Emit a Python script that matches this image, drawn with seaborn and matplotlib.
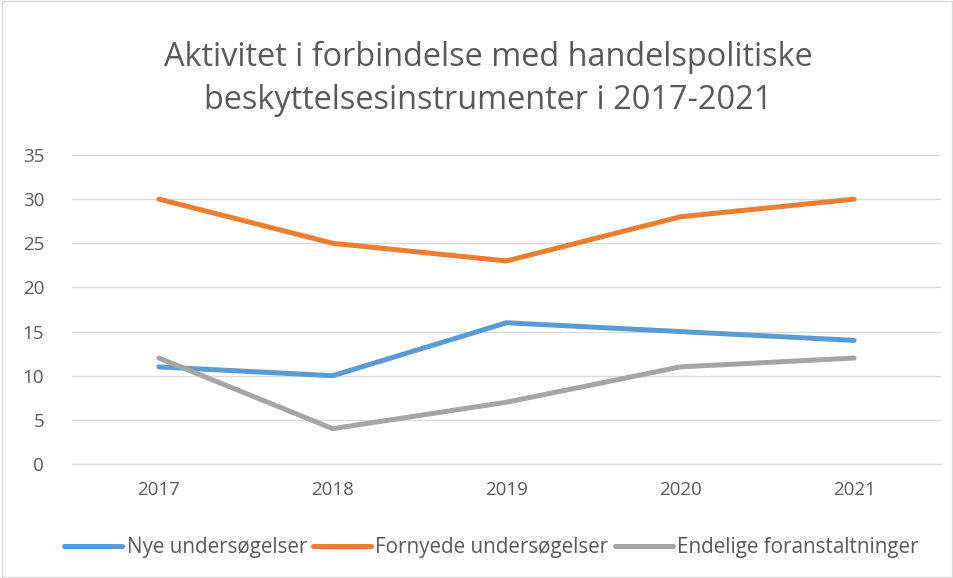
import matplotlib
matplotlib.use("Agg")
import matplotlib.pyplot as plt
import seaborn as sns
import pandas as pd
from matplotlib.patches import Rectangle

years = ["2017", "2018", "2019", "2020", "2021"]
nye = [11, 10, 16, 15, 14]
fornyede = [30, 25, 23, 28, 30]
endelige = [12, 4, 7, 11, 12]
series_names = ["Nye undersøgelser", "Fornyede undersøgelser", "Endelige foranstaltninger"]
colors = ["#5B9BD5", "#ED7D31", "#A5A5A5"]
title = "Aktivitet i forbindelse med handelspolitiske\nbeskyttelsesinstrumenter i 2017-2021"

rows = []
for name, vals in zip(series_names, [nye, fornyede, endelige]):
    for i, (y, v) in enumerate(zip(years, vals)):
        rows.append({"idx": i, "year": y, "value": v, "series": name})
df = pd.DataFrame(rows)

sns.set_theme(style="white")
plt.rcParams['font.family'] = ['Open Sans', 'DejaVu Sans']
txt = "#595959"

fig = plt.figure(figsize=(9.54, 5.78), dpi=100)
ax = fig.add_axes([72/954, 114/578, (941-72)/954, (464-155)/578])

sns.lineplot(data=df, x="idx", y="value", hue="series", palette=colors,
             hue_order=series_names, linewidth=3.6, ax=ax, legend=False,
             solid_capstyle="round")

ax.set_xlim(-0.5, 4.5)
ax.set_ylim(0, 35)
ax.set_yticks(range(0, 36, 5))
ax.set_xticks(range(len(years)))
ax.set_xticklabels(years)
ax.yaxis.grid(True, color="#D9D9D9", linewidth=1)
ax.set_axisbelow(True)
for s in ["top", "right", "left"]:
    ax.spines[s].set_visible(False)
ax.spines["bottom"].set_color("#D9D9D9")
ax.spines["bottom"].set_linewidth(1)
ax.tick_params(axis="both", length=0, labelsize=13.5, colors=txt)
ax.tick_params(axis="x", pad=12)
ax.tick_params(axis="y", pad=20)
ax.set_xlabel("")
ax.set_ylabel("")

fig.text(0.512, 0.863, title, ha="center", va="center", fontsize=23.4,
         color=txt, linespacing=1.4)

handles = [plt.Line2D([0], [0], color=c, linewidth=3.6) for c in colors]
fig.legend(handles, series_names, loc="center", bbox_to_anchor=(0.515, 0.052),
           ncol=3, frameon=False, fontsize=14.9, labelcolor=txt,
           handlelength=2.8, columnspacing=0.3, handletextpad=0.2)

fig.patches.append(Rectangle((0.002, 0.002), 0.996, 0.996, transform=fig.transFigure,
                             fill=False, edgecolor="#D9D9D9", linewidth=1))

fig.savefig("out.png", dpi=100)
